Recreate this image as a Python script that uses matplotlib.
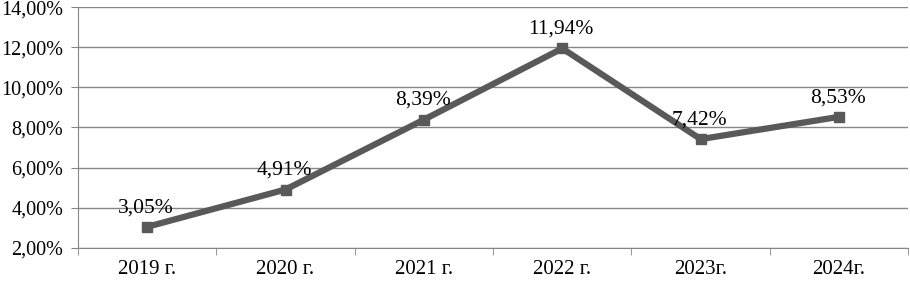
import matplotlib
matplotlib.use("Agg")
import matplotlib.pyplot as plt
from matplotlib.ticker import FuncFormatter

years = ["2019 г.", "2020 г.", "2021 г.", "2022 г.", "2023г.", "2024г."]
values = [3.05, 4.91, 8.39, 11.94, 7.42, 8.53]

plt.rcParams["font.family"] = ["Liberation Serif", "DejaVu Serif"]

fig = plt.figure(figsize=(9.1, 2.83), dpi=100)
ax = fig.add_axes([0.0857, 0.124, 0.9123, 0.851])

x = list(range(len(years)))
ax.plot(x, values, color="#595959", lw=4.5, marker="s", markersize=7.5,
        solid_joinstyle="miter", zorder=3)
for xi, v in zip(x, values):
    ax.annotate(f"{v:.2f}%".replace(".", ","), (xi, v), xytext=(-1, 7),
                textcoords="offset points", ha="center", va="bottom",
                fontsize=15.5, color="black", zorder=4)

ax.set_xlim(-0.5, len(years) - 0.5)
ax.set_ylim(2, 14)
ax.set_yticks(range(2, 15, 2))
ax.yaxis.set_major_formatter(FuncFormatter(lambda v, p: f"{v:.2f}%".replace(".", ",")))
ax.set_xticks(x)
ax.set_xticklabels(years)
ax.set_xticks([i - 0.5 for i in range(len(years) + 1)], minor=True)
ax.tick_params(axis="x", which="major", length=0, labelsize=15, pad=9)
ax.tick_params(axis="x", which="minor", length=5, color="#868686")
ax.tick_params(axis="y", length=5, color="#868686", labelsize=14.5, pad=5.5)

ax.grid(axis="y", color="#868686", lw=1)
ax.set_axisbelow(True)
for side in ["top", "right"]:
    ax.spines[side].set_visible(False)
for side in ["left", "bottom"]:
    ax.spines[side].set_color("#868686")

fig.savefig("out.png", dpi=100)
